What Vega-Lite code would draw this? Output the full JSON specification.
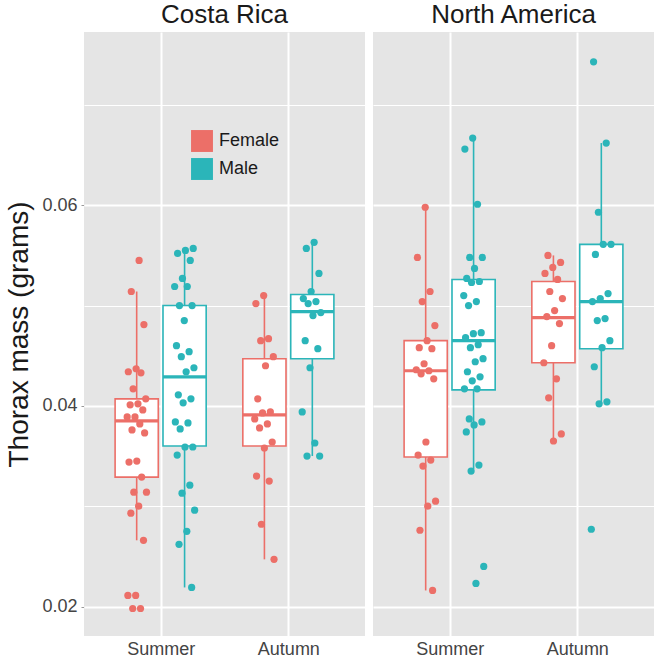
{
  "$schema": "https://vega.github.io/schema/vega-lite/v6.json",
  "padding": {"left": 5, "top": 2, "right": 2, "bottom": 0},
  "background": "white",
  "datasets": {
    "obs": [
      {"region":"Costa Rica","season":"Summer","sex":"Female","mass":0.0545},
      {"region":"Costa Rica","season":"Summer","sex":"Female","mass":0.0514},
      {"region":"Costa Rica","season":"Summer","sex":"Female","mass":0.0481},
      {"region":"Costa Rica","season":"Summer","sex":"Female","mass":0.0437},
      {"region":"Costa Rica","season":"Summer","sex":"Female","mass":0.0434},
      {"region":"Costa Rica","season":"Summer","sex":"Female","mass":0.0433},
      {"region":"Costa Rica","season":"Summer","sex":"Female","mass":0.0417},
      {"region":"Costa Rica","season":"Summer","sex":"Female","mass":0.0407},
      {"region":"Costa Rica","season":"Summer","sex":"Female","mass":0.0402},
      {"region":"Costa Rica","season":"Summer","sex":"Female","mass":0.0401},
      {"region":"Costa Rica","season":"Summer","sex":"Female","mass":0.0396},
      {"region":"Costa Rica","season":"Summer","sex":"Female","mass":0.0389},
      {"region":"Costa Rica","season":"Summer","sex":"Female","mass":0.0389},
      {"region":"Costa Rica","season":"Summer","sex":"Female","mass":0.0382},
      {"region":"Costa Rica","season":"Summer","sex":"Female","mass":0.0376},
      {"region":"Costa Rica","season":"Summer","sex":"Female","mass":0.0373},
      {"region":"Costa Rica","season":"Summer","sex":"Female","mass":0.0345},
      {"region":"Costa Rica","season":"Summer","sex":"Female","mass":0.0344},
      {"region":"Costa Rica","season":"Summer","sex":"Female","mass":0.0329},
      {"region":"Costa Rica","season":"Summer","sex":"Female","mass":0.0314},
      {"region":"Costa Rica","season":"Summer","sex":"Female","mass":0.0314},
      {"region":"Costa Rica","season":"Summer","sex":"Female","mass":0.0300},
      {"region":"Costa Rica","season":"Summer","sex":"Female","mass":0.0293},
      {"region":"Costa Rica","season":"Summer","sex":"Female","mass":0.0266},
      {"region":"Costa Rica","season":"Summer","sex":"Female","mass":0.0211},
      {"region":"Costa Rica","season":"Summer","sex":"Female","mass":0.0211},
      {"region":"Costa Rica","season":"Summer","sex":"Female","mass":0.0198},
      {"region":"Costa Rica","season":"Summer","sex":"Female","mass":0.0198},
      {"region":"Costa Rica","season":"Summer","sex":"Male","mass":0.0557},
      {"region":"Costa Rica","season":"Summer","sex":"Male","mass":0.0555},
      {"region":"Costa Rica","season":"Summer","sex":"Male","mass":0.0552},
      {"region":"Costa Rica","season":"Summer","sex":"Male","mass":0.0545},
      {"region":"Costa Rica","season":"Summer","sex":"Male","mass":0.0527},
      {"region":"Costa Rica","season":"Summer","sex":"Male","mass":0.0519},
      {"region":"Costa Rica","season":"Summer","sex":"Male","mass":0.0519},
      {"region":"Costa Rica","season":"Summer","sex":"Male","mass":0.0500},
      {"region":"Costa Rica","season":"Summer","sex":"Male","mass":0.0500},
      {"region":"Costa Rica","season":"Summer","sex":"Male","mass":0.0485},
      {"region":"Costa Rica","season":"Summer","sex":"Male","mass":0.0460},
      {"region":"Costa Rica","season":"Summer","sex":"Male","mass":0.0454},
      {"region":"Costa Rica","season":"Summer","sex":"Male","mass":0.0449},
      {"region":"Costa Rica","season":"Summer","sex":"Male","mass":0.0438},
      {"region":"Costa Rica","season":"Summer","sex":"Male","mass":0.0434},
      {"region":"Costa Rica","season":"Summer","sex":"Male","mass":0.0411},
      {"region":"Costa Rica","season":"Summer","sex":"Male","mass":0.0407},
      {"region":"Costa Rica","season":"Summer","sex":"Male","mass":0.0403},
      {"region":"Costa Rica","season":"Summer","sex":"Male","mass":0.0384},
      {"region":"Costa Rica","season":"Summer","sex":"Male","mass":0.0383},
      {"region":"Costa Rica","season":"Summer","sex":"Male","mass":0.0377},
      {"region":"Costa Rica","season":"Summer","sex":"Male","mass":0.0359},
      {"region":"Costa Rica","season":"Summer","sex":"Male","mass":0.0359},
      {"region":"Costa Rica","season":"Summer","sex":"Male","mass":0.0351},
      {"region":"Costa Rica","season":"Summer","sex":"Male","mass":0.0321},
      {"region":"Costa Rica","season":"Summer","sex":"Male","mass":0.0313},
      {"region":"Costa Rica","season":"Summer","sex":"Male","mass":0.0296},
      {"region":"Costa Rica","season":"Summer","sex":"Male","mass":0.0275},
      {"region":"Costa Rica","season":"Summer","sex":"Male","mass":0.0262},
      {"region":"Costa Rica","season":"Summer","sex":"Male","mass":0.0219},
      {"region":"Costa Rica","season":"Autumn","sex":"Female","mass":0.0510},
      {"region":"Costa Rica","season":"Autumn","sex":"Female","mass":0.0502},
      {"region":"Costa Rica","season":"Autumn","sex":"Female","mass":0.0467},
      {"region":"Costa Rica","season":"Autumn","sex":"Female","mass":0.0465},
      {"region":"Costa Rica","season":"Autumn","sex":"Female","mass":0.0449},
      {"region":"Costa Rica","season":"Autumn","sex":"Female","mass":0.0440},
      {"region":"Costa Rica","season":"Autumn","sex":"Female","mass":0.0407},
      {"region":"Costa Rica","season":"Autumn","sex":"Female","mass":0.0394},
      {"region":"Costa Rica","season":"Autumn","sex":"Female","mass":0.0393},
      {"region":"Costa Rica","season":"Autumn","sex":"Female","mass":0.0387},
      {"region":"Costa Rica","season":"Autumn","sex":"Female","mass":0.0382},
      {"region":"Costa Rica","season":"Autumn","sex":"Female","mass":0.0378},
      {"region":"Costa Rica","season":"Autumn","sex":"Female","mass":0.0364},
      {"region":"Costa Rica","season":"Autumn","sex":"Female","mass":0.0358},
      {"region":"Costa Rica","season":"Autumn","sex":"Female","mass":0.0330},
      {"region":"Costa Rica","season":"Autumn","sex":"Female","mass":0.0325},
      {"region":"Costa Rica","season":"Autumn","sex":"Female","mass":0.0282},
      {"region":"Costa Rica","season":"Autumn","sex":"Female","mass":0.0247},
      {"region":"Costa Rica","season":"Autumn","sex":"Male","mass":0.0563},
      {"region":"Costa Rica","season":"Autumn","sex":"Male","mass":0.0557},
      {"region":"Costa Rica","season":"Autumn","sex":"Male","mass":0.0532},
      {"region":"Costa Rica","season":"Autumn","sex":"Male","mass":0.0514},
      {"region":"Costa Rica","season":"Autumn","sex":"Male","mass":0.0507},
      {"region":"Costa Rica","season":"Autumn","sex":"Male","mass":0.0504},
      {"region":"Costa Rica","season":"Autumn","sex":"Male","mass":0.0502},
      {"region":"Costa Rica","season":"Autumn","sex":"Male","mass":0.0493},
      {"region":"Costa Rica","season":"Autumn","sex":"Male","mass":0.0490},
      {"region":"Costa Rica","season":"Autumn","sex":"Male","mass":0.0465},
      {"region":"Costa Rica","season":"Autumn","sex":"Male","mass":0.0457},
      {"region":"Costa Rica","season":"Autumn","sex":"Male","mass":0.0438},
      {"region":"Costa Rica","season":"Autumn","sex":"Male","mass":0.0394},
      {"region":"Costa Rica","season":"Autumn","sex":"Male","mass":0.0363},
      {"region":"Costa Rica","season":"Autumn","sex":"Male","mass":0.0350},
      {"region":"Costa Rica","season":"Autumn","sex":"Male","mass":0.0350},
      {"region":"North America","season":"Summer","sex":"Female","mass":0.0598},
      {"region":"North America","season":"Summer","sex":"Female","mass":0.0548},
      {"region":"North America","season":"Summer","sex":"Female","mass":0.0514},
      {"region":"North America","season":"Summer","sex":"Female","mass":0.0504},
      {"region":"North America","season":"Summer","sex":"Female","mass":0.0480},
      {"region":"North America","season":"Summer","sex":"Female","mass":0.0465},
      {"region":"North America","season":"Summer","sex":"Female","mass":0.0458},
      {"region":"North America","season":"Summer","sex":"Female","mass":0.0457},
      {"region":"North America","season":"Summer","sex":"Female","mass":0.0442},
      {"region":"North America","season":"Summer","sex":"Female","mass":0.0436},
      {"region":"North America","season":"Summer","sex":"Female","mass":0.0435},
      {"region":"North America","season":"Summer","sex":"Female","mass":0.0432},
      {"region":"North America","season":"Summer","sex":"Female","mass":0.0427},
      {"region":"North America","season":"Summer","sex":"Female","mass":0.0364},
      {"region":"North America","season":"Summer","sex":"Female","mass":0.0351},
      {"region":"North America","season":"Summer","sex":"Female","mass":0.0346},
      {"region":"North America","season":"Summer","sex":"Female","mass":0.0340},
      {"region":"North America","season":"Summer","sex":"Female","mass":0.0305},
      {"region":"North America","season":"Summer","sex":"Female","mass":0.0300},
      {"region":"North America","season":"Summer","sex":"Female","mass":0.0276},
      {"region":"North America","season":"Summer","sex":"Female","mass":0.0216},
      {"region":"North America","season":"Summer","sex":"Male","mass":0.0667},
      {"region":"North America","season":"Summer","sex":"Male","mass":0.0656},
      {"region":"North America","season":"Summer","sex":"Male","mass":0.0601},
      {"region":"North America","season":"Summer","sex":"Male","mass":0.0548},
      {"region":"North America","season":"Summer","sex":"Male","mass":0.0548},
      {"region":"North America","season":"Summer","sex":"Male","mass":0.0537},
      {"region":"North America","season":"Summer","sex":"Male","mass":0.0527},
      {"region":"North America","season":"Summer","sex":"Male","mass":0.0524},
      {"region":"North America","season":"Summer","sex":"Male","mass":0.0523},
      {"region":"North America","season":"Summer","sex":"Male","mass":0.0510},
      {"region":"North America","season":"Summer","sex":"Male","mass":0.0504},
      {"region":"North America","season":"Summer","sex":"Male","mass":0.0500},
      {"region":"North America","season":"Summer","sex":"Male","mass":0.0473},
      {"region":"North America","season":"Summer","sex":"Male","mass":0.0472},
      {"region":"North America","season":"Summer","sex":"Male","mass":0.0468},
      {"region":"North America","season":"Summer","sex":"Male","mass":0.0461},
      {"region":"North America","season":"Summer","sex":"Male","mass":0.0458},
      {"region":"North America","season":"Summer","sex":"Male","mass":0.0447},
      {"region":"North America","season":"Summer","sex":"Male","mass":0.0444},
      {"region":"North America","season":"Summer","sex":"Male","mass":0.0434},
      {"region":"North America","season":"Summer","sex":"Male","mass":0.0429},
      {"region":"North America","season":"Summer","sex":"Male","mass":0.0425},
      {"region":"North America","season":"Summer","sex":"Male","mass":0.0417},
      {"region":"North America","season":"Summer","sex":"Male","mass":0.0417},
      {"region":"North America","season":"Summer","sex":"Male","mass":0.0387},
      {"region":"North America","season":"Summer","sex":"Male","mass":0.0384},
      {"region":"North America","season":"Summer","sex":"Male","mass":0.0381},
      {"region":"North America","season":"Summer","sex":"Male","mass":0.0374},
      {"region":"North America","season":"Summer","sex":"Male","mass":0.0341},
      {"region":"North America","season":"Summer","sex":"Male","mass":0.0335},
      {"region":"North America","season":"Summer","sex":"Male","mass":0.0240},
      {"region":"North America","season":"Summer","sex":"Male","mass":0.0223},
      {"region":"North America","season":"Autumn","sex":"Female","mass":0.0550},
      {"region":"North America","season":"Autumn","sex":"Female","mass":0.0543},
      {"region":"North America","season":"Autumn","sex":"Female","mass":0.0538},
      {"region":"North America","season":"Autumn","sex":"Female","mass":0.0532},
      {"region":"North America","season":"Autumn","sex":"Female","mass":0.0526},
      {"region":"North America","season":"Autumn","sex":"Female","mass":0.0514},
      {"region":"North America","season":"Autumn","sex":"Female","mass":0.0507},
      {"region":"North America","season":"Autumn","sex":"Female","mass":0.0495},
      {"region":"North America","season":"Autumn","sex":"Female","mass":0.0489},
      {"region":"North America","season":"Autumn","sex":"Female","mass":0.0482},
      {"region":"North America","season":"Autumn","sex":"Female","mass":0.0460},
      {"region":"North America","season":"Autumn","sex":"Female","mass":0.0443},
      {"region":"North America","season":"Autumn","sex":"Female","mass":0.0427},
      {"region":"North America","season":"Autumn","sex":"Female","mass":0.0408},
      {"region":"North America","season":"Autumn","sex":"Female","mass":0.0372},
      {"region":"North America","season":"Autumn","sex":"Female","mass":0.0365},
      {"region":"North America","season":"Autumn","sex":"Male","mass":0.0743},
      {"region":"North America","season":"Autumn","sex":"Male","mass":0.0662},
      {"region":"North America","season":"Autumn","sex":"Male","mass":0.0593},
      {"region":"North America","season":"Autumn","sex":"Male","mass":0.0561},
      {"region":"North America","season":"Autumn","sex":"Male","mass":0.0561},
      {"region":"North America","season":"Autumn","sex":"Male","mass":0.0551},
      {"region":"North America","season":"Autumn","sex":"Male","mass":0.0512},
      {"region":"North America","season":"Autumn","sex":"Male","mass":0.0507},
      {"region":"North America","season":"Autumn","sex":"Male","mass":0.0504},
      {"region":"North America","season":"Autumn","sex":"Male","mass":0.0487},
      {"region":"North America","season":"Autumn","sex":"Male","mass":0.0485},
      {"region":"North America","season":"Autumn","sex":"Male","mass":0.0465},
      {"region":"North America","season":"Autumn","sex":"Male","mass":0.0458},
      {"region":"North America","season":"Autumn","sex":"Male","mass":0.0439},
      {"region":"North America","season":"Autumn","sex":"Male","mass":0.0404},
      {"region":"North America","season":"Autumn","sex":"Male","mass":0.0402},
      {"region":"North America","season":"Autumn","sex":"Male","mass":0.0277},
      {"region":"Costa Rica","season":"Summer","sex":"Female","lower":0.0266,"q1":0.0329,"median":0.0385,"q3":0.0407,"upper":0.0514},
      {"region":"Costa Rica","season":"Summer","sex":"Male","lower":0.0219,"q1":0.0360,"median":0.0429,"q3":0.0500,"upper":0.0557},
      {"region":"Costa Rica","season":"Autumn","sex":"Female","lower":0.0247,"q1":0.0360,"median":0.0391,"q3":0.0447,"upper":0.0510},
      {"region":"Costa Rica","season":"Autumn","sex":"Male","lower":0.0350,"q1":0.0447,"median":0.0494,"q3":0.0511,"upper":0.0563},
      {"region":"North America","season":"Summer","sex":"Female","lower":0.0216,"q1":0.0349,"median":0.0435,"q3":0.0465,"upper":0.0598},
      {"region":"North America","season":"Summer","sex":"Male","lower":0.0337,"q1":0.0416,"median":0.0465,"q3":0.0526,"upper":0.0667},
      {"region":"North America","season":"Autumn","sex":"Female","lower":0.0366,"q1":0.0443,"median":0.0488,"q3":0.0524,"upper":0.0550},
      {"region":"North America","season":"Autumn","sex":"Male","lower":0.0402,"q1":0.0457,"median":0.0504,"q3":0.0561,"upper":0.0662}
    ]
  },
  "data": {"name": "obs"},
  "transform": [
    {"window": [{"op": "row_number", "as": "rn"}]},
    {"calculate": "(datum.season === 'Summer' ? 1 : 2) + (datum.sex === 'Female' ? -0.1875 : 0.1875)", "as": "xc"},
    {"calculate": "datum.xc - 0.169", "as": "xl"},
    {"calculate": "datum.xc + 0.169", "as": "xr"},
    {"calculate": "datum.xc + ((datum.rn * 0.6180339887) % 1 - 0.5) * 0.16", "as": "xj"}
  ],
  "facet": {
    "column": {
      "field": "region", "type": "nominal", "sort": ["Costa Rica", "North America"], "title": null,
      "header": {"labelFontSize": 26, "labelFont": "Liberation Sans", "labelColor": "#1a1a1a", "labelPadding": 4}
    }
  },
  "spacing": 8,
  "spec": {
    "width": 281,
    "height": 604,
    "layer": [
      {
        "transform": [{"filter": "isValid(datum.median)"}],
        "mark": {"type": "rule", "strokeWidth": 1.6},
        "encoding": {
          "x": {"field": "xc", "type": "quantitative", "title": null,
                "scale": {"domain": [0.4, 2.6], "nice": false, "zero": false},
                "axis": {"values": [1, 2], "labelExpr": "datum.value == 1 ? 'Summer' : 'Autumn'", "grid": true,
                         "tickSize": 0, "labelPadding": 4, "labelDx": 13, "gridWidth": 2, "labelFontSize": 18}},
          "y": {"field": "lower", "type": "quantitative", "title": "Thorax mass (grams)",
                "scale": {"domain": [0.01706, 0.07727], "nice": false, "zero": false},
                "axis": {
                  "values": [0.02, 0.03, 0.04, 0.05, 0.06, 0.07],
                  "labelExpr": "abs(datum.value * 50 - round(datum.value * 50)) < 0.01 ? format(datum.value, '.2f') : ''",
                  "gridWidth": {"condition": {"test": "abs(datum.value * 50 - round(datum.value * 50)) < 0.01", "value": 2}, "value": 1},
                  "tickOpacity": {"condition": {"test": "abs(datum.value * 50 - round(datum.value * 50)) < 0.01", "value": 1}, "value": 0},
                  "tickColor": "#999999", "tickSize": 3, "labelPadding": 4, "labelFontSize": 18,
                  "titleFontSize": 28, "titlePadding": 8
                }},
          "y2": {"field": "q1"},
          "color": {"field": "sex", "type": "nominal",
                    "scale": {"domain": ["Female", "Male"], "range": ["#EC6F68", "#2BB5B9"]},
                    "legend": {"orient": "none", "legendX": 107, "legendY": 98, "title": null,
                               "symbolType": "square", "symbolSize": 480, "symbolStrokeWidth": 0,
                               "symbolOpacity": 1, "labelFontSize": 18, "labelOffset": 6,
                               "rowPadding": 6, "padding": 0, "labelColor": "#1a1a1a",
                               "labelFont": "Liberation Sans",
                               "encode": {"symbols": {"update": {"fill": {"scale": "color", "field": "value"}, "stroke": {"value": "transparent"}, "opacity": {"value": 1}}}}}}
        }
      },
      {
        "transform": [{"filter": "isValid(datum.median)"}],
        "mark": {"type": "rule", "strokeWidth": 1.6},
        "encoding": {
          "x": {"field": "xc", "type": "quantitative", "title": null},
          "y": {"field": "q3", "type": "quantitative", "title": "Thorax mass (grams)"},
          "y2": {"field": "upper"},
          "color": {"field": "sex", "type": "nominal"}
        }
      },
      {
        "transform": [{"filter": "isValid(datum.median)"}],
        "mark": {"type": "rect", "fill": "#FFFFFF"},
        "encoding": {
          "x": {"field": "xl", "type": "quantitative", "title": null},
          "x2": {"field": "xr"},
          "y": {"field": "q1", "type": "quantitative", "title": "Thorax mass (grams)"},
          "y2": {"field": "q3"}
        }
      },
      {
        "transform": [{"filter": "isValid(datum.median)"}],
        "mark": {"type": "rect", "filled": false, "strokeWidth": 1.6},
        "encoding": {
          "x": {"field": "xl", "type": "quantitative", "title": null},
          "x2": {"field": "xr"},
          "y": {"field": "q1", "type": "quantitative", "title": "Thorax mass (grams)"},
          "y2": {"field": "q3"},
          "color": {"field": "sex", "type": "nominal"}
        }
      },
      {
        "transform": [{"filter": "isValid(datum.median)"}],
        "mark": {"type": "rule", "strokeWidth": 3.2},
        "encoding": {
          "x": {"field": "xl", "type": "quantitative", "title": null},
          "x2": {"field": "xr"},
          "y": {"field": "median", "type": "quantitative", "title": "Thorax mass (grams)"},
          "color": {"field": "sex", "type": "nominal"}
        }
      },
      {
        "transform": [{"filter": "isValid(datum.mass)"}],
        "mark": {"type": "circle", "size": 52, "opacity": 1},
        "encoding": {
          "x": {"field": "xj", "type": "quantitative", "title": null},
          "y": {"field": "mass", "type": "quantitative", "title": "Thorax mass (grams)"},
          "color": {"field": "sex", "type": "nominal"}
        }
      }
    ]
  },
  "config": {
    "font": "Liberation Sans",
    "view": {"fill": "#E5E5E5", "stroke": null},
    "axis": {
      "domain": false,
      "gridColor": "#FFFFFF",
      "gridOpacity": 1,
      "labelFont": "Liberation Sans",
      "labelColor": "#444444",
      "labelFontSize": 18,
      "titleFont": "Liberation Sans",
      "titleFontWeight": "normal",
      "titleColor": "#1a1a1a"
    }
  }
}
